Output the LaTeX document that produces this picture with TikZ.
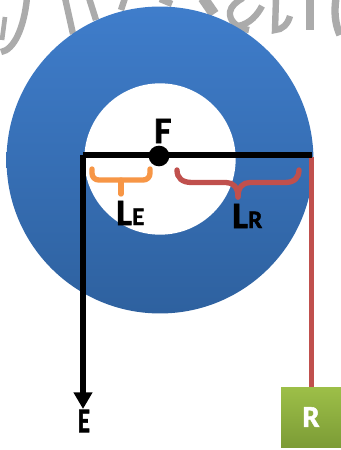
\documentclass[tikz,border=0pt]{standalone}
\usepackage{fontspec}
\setmainfont{Carlito}[BoldFeatures={FakeBold=1.5}]
\usetikzlibrary{arrows.meta}
\definecolor{ringtop}{HTML}{3F7DCB}
\definecolor{ringbot}{HTML}{2E619F}
\definecolor{barred}{HTML}{C0504D}
\definecolor{braceor}{HTML}{F79646}
\definecolor{boxtop}{HTML}{9DBF48}
\definecolor{boxbot}{HTML}{7C9C36}
\definecolor{markgray}{HTML}{ABABAB}
\newcommand{\subtxt}[1]{{\fontsize{19}{19}\selectfont #1}}
\begin{document}
\begin{tikzpicture}
  [x=.75pt,y=-.75pt,
   lever/.style={line width=4.3pt},
   curly/.style={line width=4pt,line cap=round},
   label/.style={inner sep=0pt,anchor=base west,font=\bfseries\fontsize{28}{28}\selectfont},
   pen/.style={markgray,line width=4.8pt}]
  \useasboundingbox (0,0) rectangle (341,450);

  % grey writing behind the ring
  \draw[pen] (1,52) .. controls (14,50) and (24,28) .. (27,-2);
  \draw[pen,line width=3.5pt] (5,17) -- (2,40);
  \draw[pen] (65,-2) -- (73,34);
  \draw[pen] (89,-2) -- (96,20);
  \draw[pen] (125,-2) -- (121,10);
  \draw[pen] (160,-1) -- (172,4);
  \draw[pen,line width=8pt] (203,-2) -- (214,14);
  \draw[pen] (249,30) .. controls (236,28) and (229,20) .. (230,12) .. controls (231,6) and (236,2) .. (243,-2);
  \draw[pen] (262,6) .. controls (258,14) and (250,24) .. (238,26);
  \draw[pen] (276,-2) -- (275,30) .. controls (282,30) and (288,24) .. (290,16);
  \draw[pen,line width=5.5pt] (310,-2) -- (310,30);
  \draw[pen,line width=5.5pt] (336,-2) .. controls (334,12) and (335,24) .. (340,35);

  \node[circle,minimum size=230.2pt,inner sep=0pt,top color=ringtop,bottom color=ringbot] (ring) at (160,160) {};
  \node[circle,minimum size=113.5pt,inner sep=0pt,fill=white] (hole) at (160,159) {};

  \coordinate (beamL) at (83,155);
  \coordinate (beamR) at (312,155);
  \coordinate (ropeE) at (83,409);
  \coordinate (ropeR) at (311.5,157);
  \node[inner sep=0pt,minimum width=45pt,minimum height=45pt,top color=boxtop,bottom color=boxbot,text=white,font=\fontsize{23}{23}\selectfont\bfseries] (R) at (311,417) {R};

  \draw[barred,line width=4pt] (ropeR) -- (ropeR |- R.north);
  \draw[lever] (beamL) -- (beamR);
  \draw[lever,-{Triangle[width=13.5pt,length=12.5pt]}] (beamL) -- (ropeE);

  \node[circle,fill=black,minimum size=15.5pt,inner sep=0pt] (F) at (159,156) {};
  \node[label] (Ftxt) at (154,143) {F};

  \coordinate (braceEa) at (92,169);
  \coordinate (braceEm) at (121,180);
  \coordinate (braceEt) at (121,194);
  \coordinate (braceEb) at (150,169);
  \draw[braceor,curly,rounded corners=5pt] (braceEa) |- (braceEm) -| (braceEb);
  \draw[braceor,curly] (braceEm) -- (braceEt);

  \coordinate (braceRa) at (177,170);
  \coordinate (braceRl) at (192,182.5);
  \coordinate (braceRt) at (238,197);
  \coordinate (braceRr) at (285,182.5);
  \coordinate (braceRb) at (299,170);
  \draw[barred,curly] (braceRa) .. controls (177,178) and (182,182.5) .. (braceRl) -- (226,182.5) .. controls (233,182.5) and (238,187) .. (braceRt);
  \draw[barred,curly] (braceRb) .. controls (299,178) and (294,182.5) .. (braceRr) -- (250,182.5) .. controls (243,182.5) and (238,187) .. (braceRt);

  \node[label] (LE) at (116,225) {L\subtxt{E}};
  \node[label] (LR) at (232,228) {L\subtxt{R}};
  \node[label,xscale=.72,anchor=center,font=\bfseries\fontsize{26}{26}\selectfont] (E) at (84,421) {E};
\end{tikzpicture}
\end{document}
